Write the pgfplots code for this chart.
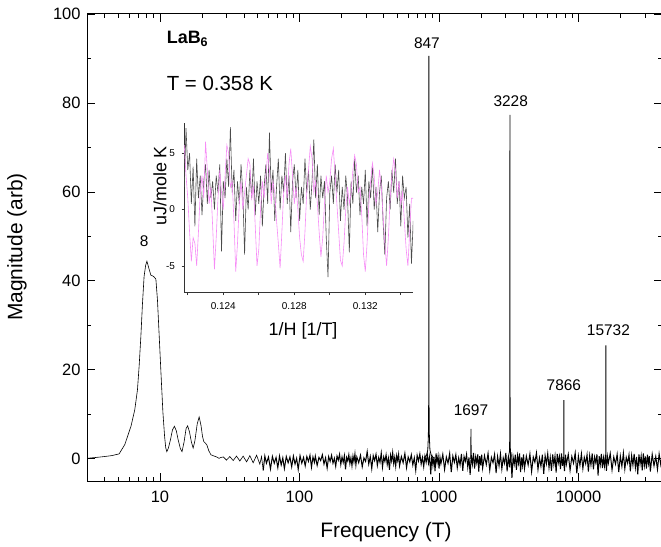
\documentclass[border=0pt]{standalone}
\usepackage{fontspec}
\setmainfont{Liberation Sans}
\usepackage{pgfplots}
\pgfplotsset{compat=1.18}
\usepackage{pgfplotstable}
\definecolor{pinkline}{RGB}{246,140,246}
\definecolor{grayline}{RGB}{75,75,75}

\pgfplotstableread{
f m
3.0 0.1
3.5 0.3
4.0 0.5
4.5 0.7
5.1 1.1
5.6 3.2
6.2 7.3
6.6 11.0
6.9 15.5
7.1 21.0
7.3 27.5
7.5 35.0
7.7 41.0
7.9 43.5
8.07 44.4
8.3 43.0
8.6 41.3
9.0 41.0
9.35 40.4
9.6 35.7
9.9 27.0
10.2 18.5
10.5 10.5
10.8 5.0
11.0 2.5
11.2 1.6
11.5 2.4
11.9 4.3
12.3 6.5
12.7 7.3
13.1 6.3
13.5 4.3
14.0 2.3
14.4 1.6
14.9 3.8
15.4 6.8
15.8 7.4
16.3 6.0
16.8 3.8
17.3 2.4
17.8 4.0
18.5 7.8
19.1 9.4
19.7 7.5
20.2 5.0
20.6 3.9
21.2 3.5
21.7 3.1
22.4 1.8
23.2 0.9
24.5 0.6
25.5 0.4
26.5 0.1
27.4 0.3
28.5 0.4
30.0 -0.3
31.7 0.5
33.5 -0.4
35.4 0.6
37.4 -0.5
39.5 0.6
41.8 -0.7
44.1 0.7
46.6 -0.9
49.3 0.8
52.0 -1.2
53.5 0.5
55.0 -2.6
}\lowdata

\pgfplotstableread{
f m
55.0 -2.6
56.5 0.6
58 -1.0
60 0.4
62 -2.3
64 0.5
66 -1.0
68 0.3
70 -2.0
72 0.6
74 -1.4
76 0.2
78 -2.2
80.5 0.5
83 -0.9
85.5 0.4
88 -1.8
90.5 0.6
93 -1.2
95.5 0.1
98 -2.4
101 0.7
104 -1.0
107 0.3
110 -1.6
113 0.5
116 -0.6
119 0.8
122 -1.9
125 0.4
128 -0.8
130 0.6
134 -1.5
138 0.3
142 -0.4
146 0.9
150 -1.2
154 0.2
158 -2.1
162 0.5
166 -0.6
170 0.8
174 -1.0
178 0.1
182 -1.7
186 0.6
190 -0.3
194 1.0
198 -1.3
202 0.4
206 -0.8
210 0.7
214 -2.4
218 0.3
222 -0.5
226 0.9
230 -1.1
234 0.2
238 -1.6
242 0.6
246 -0.7
250 1.1
254 -1.4
258 0.4
266 -0.9
274 0.8
282 -1.8
290 0.2
298 -0.6
306 1.6
314 -1.2
322 0.5
330 -2.2
338 0.7
346 -0.4
354 1.0
362 -1.5
370 0.3
378 -0.8
386 1.3
394 -1.9
402 0.4
410 -0.6
418 0.9
426 -1.3
434 0.1
442 -2.5
450 0.8
458 -0.5
466 1.4
474 -1.1
482 0.3
490 -1.7
498 0.7
506 -0.4
514 1.0
522 -1.6
538 0.5
554 -0.9
570 1.2
586 -2.0
602 0.4
618 -0.7
634 0.9
650 -1.4
666 0.2
682 -2.6
698 0.8
714 -0.5
730 1.1
746 -1.2
762 0.3
778 -1.8
794 0.6
810 -0.8
826 1.0
842 -1.0
858 0.5
874 -3.5
890 0.9
906 -1.5
922 0.4
938 -2.8
954 1.2
970 -0.9
986 0.6
1002 -2.2
1018 0.3
1034 -1.1
1066 1.0
1098 -2.4
1130 0.4
1162 -1.0
1194 1.2
1226 -3.0
1258 0.6
1290 -0.8
1322 0.9
1354 -2.0
1386 0.2
1418 -1.4
1450 1.1
1482 -2.7
1514 0.5
1546 -0.6
1578 1.0
1610 -1.9
1642 0.3
1674 -3.6
1706 0.8
1738 -1.2
1770 1.3
1802 -2.2
1834 0.4
1866 -0.9
1898 1.0
1930 -2.9
1962 0.6
1994 -1.5
2026 0.9
2058 -2.1
2122 0.7
2186 -1.3
2250 1.2
2314 -2.6
2378 0.3
2442 -0.9
2506 1.0
2570 -3.2
2634 0.5
2698 -1.6
2762 1.1
2826 -2.3
2890 0.2
2954 -1.0
3018 1.3
3082 -2.8
3146 0.6
3210 -1.9
3274 1.5
3338 -4.3
3402 0.4
3466 -1.2
3530 0.9
3594 -2.5
3658 0.7
3722 -1.0
3786 1.2
3850 -3.0
3914 0.3
3978 -1.5
4042 1.0
4106 -2.2
4234 0.6
4362 -1.4
4490 1.1
4618 -2.9
4746 0.4
4874 -0.8
5002 1.3
5130 -2.4
5258 0.2
5386 -1.7
5514 0.9
5642 -3.4
5770 0.7
5898 -1.1
6026 1.2
6154 -2.0
6282 0.3
6410 -2.7
6538 1.0
6666 -1.3
6794 0.6
6922 -3.1
7050 1.1
7178 -0.9
7306 0.5
7434 -2.3
7562 1.2
7690 -1.6
7818 0.4
7946 -2.8
8074 0.9
8202 -1.2
8458 1.0
8714 -2.6
8970 0.5
9226 -1.0
9482 1.3
9738 -3.3
9994 0.6
10250 -1.5
10506 1.1
10762 -2.2
11018 0.3
11274 -1.1
11530 0.9
11786 -2.9
12042 0.7
12298 -1.4
12554 1.2
12810 -2.4
13066 0.4
13322 -0.9
13578 1.0
13834 -3.8
14090 0.6
14346 -1.3
14602 1.1
14858 -2.1
15114 0.2
15370 -1.6
15626 0.9
15882 -2.7
16138 0.5
16394 -1.0
16906 1.2
17418 -2.5
17930 0.4
18442 -1.2
18954 1.0
19466 -3.0
19978 0.6
20490 -1.7
21002 1.3
21514 -2.3
22026 0.3
22538 -1.0
23050 0.9
23562 -2.8
24074 0.7
24586 -1.4
25098 1.1
25610 -2.0
26122 0.4
26634 -3.5
27146 1.0
27658 -1.2
28170 0.6
28682 -2.6
29194 1.2
29706 -1.5
30218 0.5
30730 -2.2
31242 0.9
31754 -1.1
32266 0.6
32778 -2.9
33802 1.0
34826 -1.6
35850 0.5
36874 -2.4
37898 1.1
38922 -1.3
39946 0.7
40970 -2.0
}\noisedata

\pgfplotstableread{
x g p
0.1218 2.0 5.7
0.1219 7.2 3.0
0.1220 3.5 1.0
0.1221 5.0 -2.0
0.1222 0.5 -4.6
0.1223 3.8 -2.5
0.1224 -1.5 -3.0
0.1225 4.5 -5.0
0.1226 1.0 -2.0
0.1227 3.0 1.5
0.1228 -0.5 3.0
0.1229 2.5 1.0
0.1230 4.0 6.0
0.1231 0.5 3.5
0.1232 3.5 0.5
0.1233 1.0 2.0
0.1234 2.5 -1.5
0.1235 0.0 -5.3
0.1236 3.0 -2.5
0.1237 1.5 1.0
0.1238 4.0 3.5
0.1239 -3.7 1.5
0.1240 2.5 0.0
0.1241 1.0 3.0
0.1242 4.5 5.7
0.1243 2.0 5.0
0.1244 7.3 2.0
0.1245 1.5 2.5
0.1246 3.5 -1.0
0.1247 -1.0 -5.5
0.1248 2.5 -3.0
0.1249 0.5 0.5
0.1250 4.0 2.5
0.1251 1.5 0.0
0.1252 -4.0 1.5
0.1253 2.0 3.0
0.1254 0.0 4.5
0.1255 3.5 4.0
0.1256 1.0 1.0
0.1257 4.5 2.0
0.1258 -0.5 -1.5
0.1259 2.5 -5.0
0.1260 0.5 -3.5
0.1261 3.0 0.0
0.1262 -1.5 2.5
0.1263 2.0 1.0
0.1264 4.0 3.0
0.1265 0.5 5.0
0.1266 6.8 3.5
0.1267 1.5 0.5
0.1268 3.5 2.5
0.1269 -1.0 1.5
0.1270 2.0 -1.0
0.1271 4.5 -3.0
0.1272 0.0 -5.2
0.1273 3.0 -2.0
0.1274 1.5 1.5
0.1275 5.0 3.0
0.1276 0.5 1.0
0.1277 3.0 4.0
0.1278 -2.0 5.4
0.1279 2.5 3.0
0.1280 4.0 0.5
0.1281 1.0 2.0
0.1282 3.5 0.0
0.1283 -1.0 -2.5
0.1284 2.0 -4.0
0.1285 0.5 -4.6
0.1286 4.5 -2.0
0.1287 1.5 1.5
0.1288 3.5 3.5
0.1289 0.0 5.6
0.1290 2.5 4.5
0.1291 6.2 1.5
0.1292 1.0 2.5
0.1293 4.0 0.5
0.1294 -0.5 -2.0
0.1295 3.0 -4.2
0.1296 1.0 -2.5
0.1297 2.5 0.5
0.1298 -2.5 3.0
0.1299 -6.0 1.5
0.1300 1.5 2.5
0.1301 3.0 4.5
0.1302 0.5 5.4
0.1303 4.0 3.0
0.1304 1.5 0.5
0.1305 3.5 -2.0
0.1306 -1.0 -4.5
0.1307 2.0 -5.0
0.1308 0.0 -3.0
0.1309 3.0 0.0
0.1310 1.0 2.0
0.1311 -3.8 0.5
0.1312 2.5 1.5
0.1313 0.5 3.5
0.1314 4.5 4.8
0.1315 1.5 4.0
0.1316 3.0 1.5
0.1317 -0.5 2.0
0.1318 2.0 -0.5
0.1319 0.5 -4.0
0.1320 3.5 -5.5
0.1321 -1.5 -3.0
0.1322 2.5 0.5
0.1323 1.0 2.5
0.1324 4.0 4.1
0.1325 0.0 3.0
0.1326 2.0 0.5
0.1327 -2.0 1.5
0.1328 1.5 3.5
0.1329 3.0 2.0
0.1330 -1.0 -0.5
0.1331 -4.0 -3.0
0.1332 1.0 -5.0
0.1333 2.5 -2.5
0.1334 0.0 1.0
0.1335 3.5 3.0
0.1336 1.5 4.5
0.1337 4.5 3.5
0.1338 0.5 1.0
0.1339 2.5 2.5
0.1340 -1.5 0.5
0.1341 3.0 1.5
0.1342 1.0 -1.0
0.1343 2.0 -3.5
0.1344 -2.5 -5.0
0.1345 0.5 -2.0
0.1346 -4.8 1.0
0.1347 -1.0 1.0
}\insetdata

\begin{document}
\begin{tikzpicture}
\begin{axis}[
  name=main,
  at={(87bp,66bp)}, anchor=south west,
  scale only axis, width=575.4bp, height=467bp,
  xmode=log, xmin=3, xmax=40000, ymin=-5, ymax=100,
  xtick={10,100,1000,10000}, xticklabels={10,100,1000,10000},
  minor xtick={3,4,5,6,7,8,9,20,30,40,50,60,70,80,90,200,300,400,500,600,700,800,900,2000,3000,4000,5000,6000,7000,8000,9000,20000,30000},
  ytick={0,20,40,60,80,100}, yticklabels={0,20,40,60,80,100},
  minor ytick={10,30,50,70,90},
  tick align=inside, major tick length=8bp, minor tick length=4bp,
  tick style={black, line width=0.8bp},
  axis line style={line width=1bp},
  /pgf/number format/assume math mode=true,
  tick label style={font=\fontsize{16.5}{19}\selectfont},
  xticklabel style={yshift=-6.5bp},
  yticklabel style={xshift=-3bp},
  label style={font=\fontsize{21}{25}\selectfont},
  xlabel={Frequency (T)}, ylabel={Magnitude (arb)},
  xlabel style={at={(axis description cs:0.5196,-0.109)}, anchor=center},
  ylabel style={at={(axis description cs:-0.1217,0.501)}, anchor=center},
]
\addplot[black, line width=0.6bp] table[x=f,y=m]{\lowdata};
\addplot[black, line width=1.0bp] table[x=f,y=m]{\noisedata};
\addplot[black, line width=0.8bp] coordinates {(780,0.2)(815,0.8)(832,2.0)(840,5.0)(844,12)(846.5,50)(847,90.6)(847.5,50)(850,12)(854,5)(862,2)(880,0.8)(915,0.2)};
\addplot[black, line width=0.8bp] coordinates {(1690,0)(1697,6.7)(1704,0)};
\addplot[black, line width=0.8bp] coordinates {(3150,0.5)(3200,1.5)(3215,4)(3222,25)(3228,77.3)(3234,25)(3241,4)(3256,1.5)(3310,0.5)};
\addplot[black, line width=0.8bp] coordinates {(7850,0)(7866,13.2)(7882,0)};
\addplot[black, line width=0.8bp] coordinates {(15700,0)(15732,25.5)(15764,0)};
\node[font=\fontsize{15.5}{18}\selectfont, anchor=south, inner sep=0pt] at (axis cs:7.7,47.7) {8};
\node[font=\fontsize{15.5}{18}\selectfont, anchor=south, inner sep=0pt] at (axis cs:820,92.1) {847};
\node[font=\fontsize{15.5}{18}\selectfont, anchor=south, inner sep=0pt] at (axis cs:3270,79.1) {3228};
\node[font=\fontsize{15.5}{18}\selectfont, anchor=south, inner sep=0pt] at (axis cs:1697,9.7) {1697};
\node[font=\fontsize{15.5}{18}\selectfont, anchor=south, inner sep=0pt] at (axis cs:7866,15.2) {7866};
\node[font=\fontsize{15.5}{18}\selectfont, anchor=south, inner sep=0pt] at (axis cs:16400,27.7) {15732};
\node[font=\bfseries\fontsize{18}{21}\selectfont, anchor=base west, inner sep=0pt] at (axis cs:11.17,93.3) {LaB\textsubscript{6}};
\node[font=\fontsize{20.5}{24}\selectfont, anchor=base west, inner sep=0pt] at (axis cs:11.17,82.87) {T = 0.358 K};
\end{axis}

\begin{axis}[
  at={(184bp,254.3bp)}, anchor=south west,
  scale only axis, width=229bp, height=170bp,
  xmin=0.121786, xmax=0.134687, ymin=-7.37, ymax=7.69,
  axis x line*=bottom, axis y line*=left,
  axis line style={-, black!80, line width=0.8bp},
  x axis line style={-}, y axis line style={-},
  xtick={0.122,0.124,0.126,0.128,0.130,0.132,0.134},
  xticklabels={,0.124,,0.128,,0.132,},
  ytick={-5,0,5}, yticklabels={-5,0,5},
  tick align=outside, major tick length=2.5bp,
  tick style={black!80, line width=0.7bp},
  tick label style={font=\fontsize{10}{12}\selectfont},
  xticklabel style={yshift=-3.7bp},
  yticklabel style={xshift=-3bp},
  label style={font=\fontsize{18}{21}\selectfont},
  xlabel={1/H [1/T]}, ylabel={uJ/mole K},
  xlabel style={at={(axis description cs:0.52,-0.225)}, anchor=center},
  ylabel style={at={(axis description cs:-0.105,0.628)}, anchor=center},
]
\addplot[grayline, line width=0.6bp] table[x=x,y=g]{\insetdata};
\addplot[pinkline, line width=0.6bp] table[x=x,y=p]{\insetdata};
\end{axis}
\pgfresetboundingbox
\path[use as bounding box] (0,0) rectangle (661bp,547bp);
\end{tikzpicture}
\end{document}
